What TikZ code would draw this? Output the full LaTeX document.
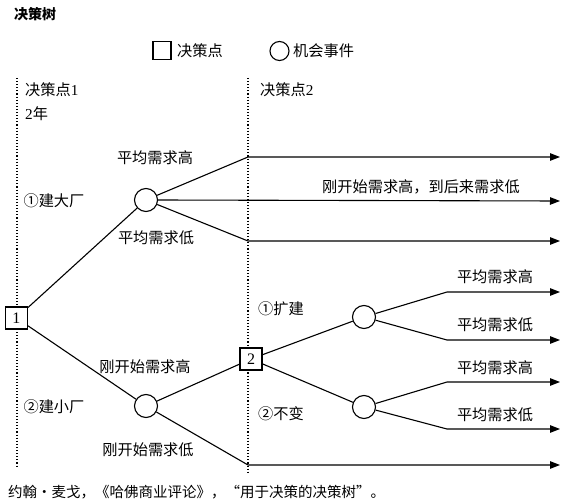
\documentclass[tikz,border=0pt]{standalone}
\usepackage{fontspec}
\setmainfont{Liberation Serif}
\newfontfamily\cjk{Noto Sans CJK SC}
\usetikzlibrary{arrows.meta}

\tikzset{
  dpoint/.style={draw,line width=1.1pt,fill=white,minimum size=22pt,inner sep=0pt,font=\fontsize{16}{16}\selectfont},
  cpoint/.style={draw,line width=1.1pt,circle,fill=white,minimum size=23pt,inner sep=0pt},
  txt/.style={font=\cjk\fontsize{15.2}{17}\selectfont,inner sep=0pt},
  branch/.style={line width=1.1pt},
  outcome/.style={line width=1.1pt,-{Triangle[length=10pt,width=7.5pt]}},
  stage/.style={dotted,line width=1.1pt}
}

\begin{document}
\begin{tikzpicture}[x=1pt,y=-1pt]
\useasboundingbox (0,0) rectangle (566,503);

% title and legend
\node[txt,anchor=west,font=\cjk\bfseries\fontsize{14}{17}\selectfont] (title) at (14,14) {决策树};
\node[dpoint,minimum size=18pt] (keyd) at (162,50.5) {};
\node[txt,anchor=west] (keydtxt) at (177,50.5) {决策点};
\node[cpoint,minimum size=19pt] (keyc) at (279.5,51) {};
\node[txt,anchor=west] (keyctxt) at (293,50.5) {机会事件};

% stages
\coordinate (s1top) at (17,78);
\coordinate (s1bot) at (17,468);
\coordinate (s2top) at (248,78);
\coordinate (s2bot) at (248,472);
\draw[stage] (s1top) -- (s1bot);
\draw[stage] (s2top) -- (s2bot);
\node[txt,anchor=west] (stage1) at (25,90) {决策点\textrm{1}};
\node[txt,anchor=west] (years) at (25,114) {\textrm{2}年};
\node[txt,anchor=west] (stage2) at (260,90) {决策点\textrm{2}};

% decision and chance points
\node[dpoint] (d1) at (16.5,318) {1};
\node[cpoint] (cA) at (146,200) {};
\node[cpoint] (cB) at (146,406) {};
\node[dpoint] (d2) at (251,359) {2};
\node[cpoint] (cC) at (364,317) {};
\node[cpoint] (cD) at (364,407) {};

% bends and ends
\coordinate (a1) at (248,157);
\coordinate (a1e) at (560,157);
\coordinate (a2e) at (560,201);
\coordinate (a3) at (248,241);
\coordinate (a3e) at (560,241);
\coordinate (b2) at (248,465);
\coordinate (b2e) at (560,465);
\coordinate (c1) at (447,292);
\coordinate (c1e) at (560,292);
\coordinate (c2) at (447,340);
\coordinate (c2e) at (560,340);
\coordinate (e1) at (447,382);
\coordinate (e1e) at (560,382);
\coordinate (e2) at (447,429);
\coordinate (e2e) at (560,429);

\draw[branch] (d1) -- (cA);
\draw[branch] (d1) -- (cB);
\draw[outcome] (cA) -- (a1) -- (a1e);
\draw[outcome] (cA.east) -- (a2e);
\draw[outcome] (cA) -- (a3) -- (a3e);
\draw[branch] (cB) -- (d2);
\draw[outcome] (cB) -- (b2) -- (b2e);
\draw[branch] (d2) -- (cC);
\draw[branch] (d2) -- (cD);
\draw[outcome] (cC) -- (c1) -- (c1e);
\draw[outcome] (cC) -- (c2) -- (c2e);
\draw[outcome] (cD) -- (e1) -- (e1e);
\draw[outcome] (cD) -- (e2) -- (e2e);

% labels
\node[txt] (big) at (54,201) {①建大厂};
\node[txt] (small) at (54,407) {②建小厂};
\node[txt] (ahigh) at (155,158) {平均需求高};
\node[txt] (alow) at (156,238) {平均需求低};
\node[txt] (mixed) at (421,187) {刚开始需求高，到后来需求低};
\node[txt] (bhigh) at (145,367) {刚开始需求高};
\node[txt] (blow) at (148,450) {刚开始需求低};
\node[txt] (grow) at (281,309) {①扩建};
\node[txt] (keep) at (281,414) {②不变};
\node[txt] (chigh) at (495,277) {平均需求高};
\node[txt] (clow) at (495,325) {平均需求低};
\node[txt] (dhigh) at (495,368) {平均需求高};
\node[txt] (dlow) at (495,415) {平均需求低};

% source
\node[txt,anchor=west,font=\cjk\fontsize{14.5}{17}\selectfont] (source) at (8,492) {约翰·麦戈，《哈佛商业评论》，“用于决策的决策树”。};
\end{tikzpicture}
\end{document}
